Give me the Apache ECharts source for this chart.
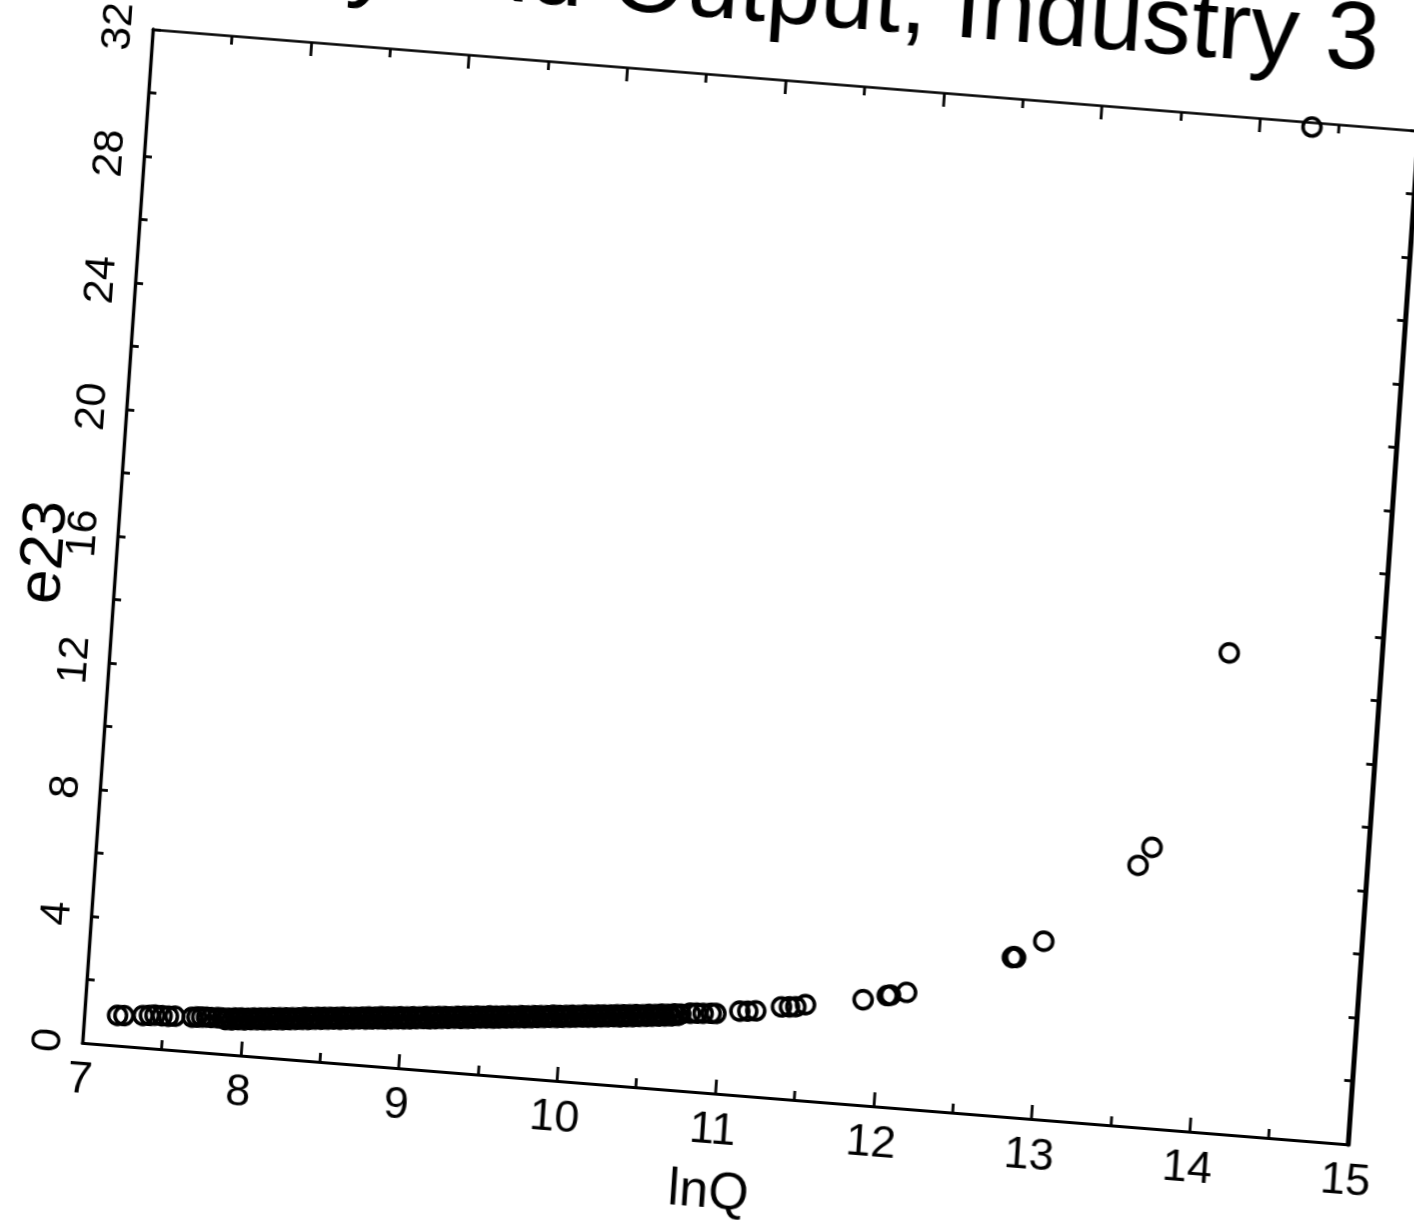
<!DOCTYPE html>
<html>
<head>
<meta charset="utf-8">
<style>
html,body{margin:0;padding:0;background:#fff;overflow:hidden;width:1414px;height:1222px;}
#c{position:absolute;left:-150px;top:-150px;width:1714px;height:1522px;
   transform-origin:900px 737px;
   transform:matrix(0.99646,0.07992,-0.06939,0.99754,0.25,-0.25);}
</style>
<script src="https://cdn.jsdelivr.net/npm/echarts@6.0.0/dist/echarts.min.js"></script>
</head>
<body>
<div id="c"></div>
<script>
// ---- data (de-rotated) ----
const titleText = 'Elasticity and Output, Industry 3';
const xName = 'lnQ';
const yName = 'e23';
const xTicks = [7, 8, 9, 10, 11, 12, 13, 14, 15];
const yTicks = [0, 4, 8, 12, 16, 20, 24, 28, 32];

const lnQ = [
  7.21, 7.25, 7.37, 7.41, 7.445, 7.49, 7.53, 7.57, 7.68, 7.71, 7.74, 7.77, 7.80, 7.84, 7.87,
  7.89, 7.91, 7.93, 7.95, 7.97, 7.99, 8.01, 8.03, 8.05, 8.07, 8.09, 8.11, 8.13, 8.15, 8.17, 8.19,
  8.21, 8.23, 8.25, 8.27, 8.29, 8.31, 8.33, 8.35, 8.37, 8.39, 8.41, 8.43, 8.45, 8.47, 8.49,
  8.51, 8.53, 8.55, 8.57, 8.59, 8.61, 8.63, 8.65, 8.67, 8.69, 8.71, 8.73, 8.75, 8.77, 8.79,
  8.81, 8.83, 8.85, 8.87, 8.89, 8.91, 8.93, 8.95, 8.97, 8.99, 9.01, 9.03, 9.05, 9.07, 9.09,
  9.11, 9.13, 9.15, 9.17, 9.19, 9.21, 9.23, 9.25, 9.27, 9.29, 9.31, 9.33, 9.35, 9.37, 9.39,
  9.41, 9.43, 9.45, 9.47, 9.49, 9.51, 9.53, 9.55, 9.57, 9.59, 9.61, 9.63, 9.65, 9.67, 9.69,
  9.71, 9.73, 9.75, 9.77, 9.79, 9.81, 9.83, 9.85, 9.87, 9.89, 9.91, 9.93, 9.95, 9.97, 9.99,
  10.01, 10.03, 10.05, 10.07, 10.09, 10.11, 10.13, 10.15, 10.17, 10.19, 10.21, 10.23, 10.25,
  10.27, 10.29, 10.31, 10.33, 10.35, 10.37, 10.39, 10.41, 10.43, 10.45, 10.47, 10.49, 10.51,
  10.53, 10.55, 10.57, 10.59, 10.61, 10.63, 10.65, 10.67, 10.69, 10.71, 10.73, 10.75,
  10.81, 10.85, 10.89, 10.94, 10.97, 11.12, 11.17, 11.22, 11.38, 11.43, 11.47, 11.53,
  11.89, 12.04, 12.06, 12.16, 12.81, 12.82, 12.83, 13.00, 13.56, 13.64, 14.04, 14.33
];
const e23 = [
  0.95, 0.96, 1.01, 1.03, 1.05, 1.05, 1.05, 1.07, 1.08, 1.10, 1.11, 1.12, 1.12, 1.13, 1.13,
  1.09, 1.14, 1.10, 1.16, 1.12, 1.18, 1.13, 1.19, 1.15, 1.21, 1.17, 1.23, 1.18, 1.24, 1.20, 1.27,
  1.22, 1.28, 1.23, 1.30, 1.25, 1.31, 1.27, 1.33, 1.29, 1.36, 1.30, 1.37, 1.33, 1.39, 1.34,
  1.41, 1.36, 1.42, 1.38, 1.44, 1.39, 1.46, 1.41, 1.47, 1.43, 1.49, 1.45, 1.51, 1.46, 1.53,
  1.48, 1.54, 1.50, 1.57, 1.51, 1.58, 1.53, 1.60, 1.55, 1.62, 1.56, 1.63, 1.58, 1.65, 1.60,
  1.66, 1.62, 1.69, 1.63, 1.70, 1.65, 1.72, 1.67, 1.74, 1.69, 1.75, 1.71, 1.78, 1.72, 1.79,
  1.74, 1.81, 1.76, 1.83, 1.78, 1.84, 1.80, 1.87, 1.81, 1.88, 1.83, 1.90, 1.85, 1.92, 1.87,
  1.93, 1.89, 1.96, 1.90, 1.97, 1.92, 1.99, 1.94, 2.01, 1.96, 2.02, 1.98, 2.05, 1.99, 2.06,
  2.01, 2.08, 2.03, 2.10, 2.05, 2.11, 2.07, 2.14, 2.08, 2.15, 2.10, 2.17, 2.12,
  2.19, 2.14, 2.20, 2.16, 2.23, 2.17, 2.24, 2.19, 2.26, 2.21, 2.28, 2.23, 2.29,
  2.25, 2.32, 2.27, 2.33, 2.29, 2.36, 2.31, 2.37, 2.33, 2.40, 2.36, 2.41,
  2.46, 2.48, 2.49, 2.51, 2.52, 2.65, 2.67, 2.70, 2.89, 2.91, 2.93, 3.02,
  3.32, 3.51, 3.53, 3.66, 5.02, 5.05, 5.03, 5.61, 8.23, 8.83, 15.13, 31.85
];

// ---- chart ----
const FONT = 'Liberation Sans, Arial, sans-serif';
const black = '#000';
const points = lnQ.map((x, i) => [x, e23[i]]);

function xAxisDef(pos, showLabels) {
  return {
    type: 'value', position: pos,
    min: xTicks[0], max: xTicks[xTicks.length - 1], interval: xTicks[1] - xTicks[0],
    name: showLabels ? xName : '', nameLocation: 'middle', nameGap: 74,
    nameMoveOverlap: false,
    nameTextStyle: { fontFamily: FONT, fontSize: 52, color: black },
    axisLine: { show: true, onZero: false, lineStyle: { color: black, width: pos === 'top' ? 2.6 : 3 } },
    axisTick: { show: true, inside: true, length: 14, lineStyle: { color: black, width: 2.8 } },
    minorTick: { show: true, splitNumber: 2, length: 9, lineStyle: { color: black, width: 2.8 } },
    axisLabel: { show: showLabels, fontFamily: FONT, fontSize: 45, color: black, margin: 15 },
    splitLine: { show: false }, minorSplitLine: { show: false }
  };
}
function yAxisDef(pos, showLabels) {
  return {
    type: 'value', position: pos,
    min: yTicks[0], max: yTicks[yTicks.length - 1], interval: yTicks[1] - yTicks[0],
    name: showLabels ? yName : '', nameLocation: 'middle', nameGap: 40,
    nameMoveOverlap: false,
    nameTextStyle: { fontFamily: FONT, fontSize: 62, color: black, padding: [0, 44, 0, 0] },
    axisLine: { show: true, onZero: false, lineStyle: { color: black, width: pos === 'right' ? 5 : 3.4 } },
    axisTick: { show: true, inside: true, length: 8, lineStyle: { color: black, width: 2.8 } },
    minorTick: { show: true, splitNumber: 2, length: 8, lineStyle: { color: black, width: 2.8 } },
    axisLabel: { show: showLabels, rotate: 90, fontFamily: FONT, fontSize: 43, color: black, margin: 12 },
    splitLine: { show: false }, minorSplitLine: { show: false }
  };
}

const chart = echarts.init(document.getElementById('c'), null, { renderer: 'canvas' });
chart.setOption({
  animation: false,
  backgroundColor: 'rgba(0,0,0,0)',
  title: {
    text: titleText, right: 219, top: 92,
    textStyle: { fontFamily: FONT, fontSize: 97, fontWeight: 'normal', color: black }
  },
  grid: { left: 265, top: 229, width: 1270, height: 1016, containLabel: false },
  xAxis: [xAxisDef('bottom', true), xAxisDef('top', false)],
  yAxis: [yAxisDef('left', true), yAxisDef('right', false)],
  series: [{
    type: 'scatter', xAxisIndex: 0, yAxisIndex: 0,
    data: points, symbol: 'circle', symbolSize: 18, clip: false,
    itemStyle: { color: 'rgba(0,0,0,0)', borderColor: black, borderWidth: 3.6, opacity: 1 },
    emphasis: { disabled: true }
  }]
});
</script>
</body>
</html>
